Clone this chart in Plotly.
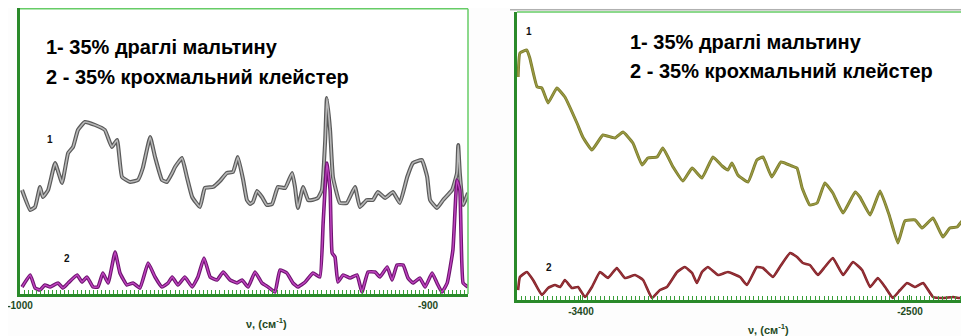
import numpy as np
import plotly.graph_objects as go

# ---------------- DATA ----------------
# Left panel (wavenumber, cm^-1) — curve 1 (35% maltin gel)
left1_wn = [-999.5, -997.5, -996.3, -995.1, -994.4, -993.1, -991.4, -989.7, -988.2, -987.0,
            -985.8, -984.1, -981.6, -979.2, -977.5, -976.2, -975.0, -973.0, -971.1, -969.9,
            -968.1, -966.9, -965.2, -964.0, -962.7, -962.0, -960.3, -959.1, -957.8, -955.9,
            -954.7, -952.7, -951.0, -949.3, -947.8, -946.6, -945.3, -944.4, -943.6, -942.9,
            -941.9, -940.7, -939.5, -938.2, -936.8, -935.0, -933.3, -932.6, -931.9, -930.6,
            -929.4, -928.4, -927.0, -926.0, -925.2, -924.8, -924.0, -923.3, -921.6, -919.9,
            -917.9, -916.7, -915.0, -913.5, -912.3, -910.5, -908.6, -906.9, -905.1, -903.7,
            -901.5, -900.2, -899.5, -897.8, -896.3, -894.1, -892.9, -892.6, -892.2, -891.4,
            -890.2]
left1_val = [104, 84, 87, 107, 97, 104, 131, 111, 141, 147,
             164, 172, 169, 164, 147, 154, 117, 112, 114, 126,
             157, 137, 114, 112, 121, 127, 136, 117, 97, 87,
             106, 107, 113, 121, 122, 137, 114, 94, 90, 92,
             103, 97, 89, 90, 107, 106, 121, 107, 86, 107,
             94, 94, 96, 104, 154, 196, 164, 117, 91, 91,
             107, 87, 94, 94, 102, 96, 102, 91, 117, 131,
             134, 117, 94, 86, 94, 104, 121, 149, 121, 89,
             101]

# Left panel — curve 2 (35% starch paste)
left2_wn = [-999.5, -997.5, -996.3, -995.1, -993.9, -992.6, -990.7, -989.5, -988.2, -986.0,
            -984.8, -983.6, -982.1, -980.9, -979.7, -978.4, -976.7, -975.5, -973.8, -972.3,
            -970.6, -968.6, -966.9, -965.2, -963.7, -962.7, -961.3, -959.6, -957.8, -956.4,
            -954.9, -953.4, -951.7, -950.2, -948.5, -946.8, -945.6, -944.1, -942.4, -940.7,
            -939.2, -937.5, -936.3, -934.6, -933.1, -931.9, -930.1, -928.2, -926.5, -925.7,
            -924.8, -924.0, -923.5, -922.8, -922.1, -920.8, -919.1, -917.4, -916.2, -914.7,
            -913.0, -911.8, -910.0, -908.8, -907.6, -906.1, -904.9, -903.7, -902.0, -900.7,
            -899.0, -897.8, -896.6, -895.3, -893.9, -892.9, -892.2, -891.4, -890.2]
left2_val = [7, 19, 6, 4, 9, 7, 11, 6, 11, 19,
             12, 17, 7, 7, 21, 11, 42, 21, 9, 11,
             6, 31, 17, 7, 11, 17, 9, 17, 7, 17,
             36, 17, 14, 22, 14, 11, 14, 7, 22, 11,
             7, 2, 24, 21, 11, 7, 12, 21, 17, 71,
             131, 104, 41, 37, 12, 19, 16, 19, 2, 22,
             22, 17, 27, 14, 29, 29, 16, 11, 16, 7,
             21, 11, 2, 11, 44, 114, 104, 11, 7]

# Right panel — curve 1
right1_wn = [-3572, -3567, -3548, -3540, -3520, -3507, -3490, -3466, -3444, -3411,
             -3395, -3370, -3340, -3307, -3285, -3258, -3233, -3217, -3192, -3176,
             -3148, -3121, -3096, -3069, -3039, -3014, -2998, -2987, -2971, -2943,
             -2919, -2902, -2878, -2853, -2823, -2809, -2795, -2774, -2754, -2733,
             -2711, -2683, -2650, -2637, -2609, -2582, -2557, -2533, -2514, -2486,
             -2467, -2437, -2410, -2391, -2371, -2355, -2341]
right1_val = [223, 247, 250, 242, 213, 212, 197, 212, 203, 177,
              163, 150, 165, 162, 168, 157, 135, 142, 143, 152,
              133, 119, 132, 122, 143, 134, 130, 137, 125, 118,
              140, 143, 123, 138, 134, 132, 112, 95, 97, 117,
              107, 87, 108, 103, 85, 109, 85, 57, 79, 80,
              72, 82, 63, 72, 73, 80, 73]

# Right panel — curve 2
right2_wn = [-3572, -3567, -3548, -3531, -3507, -3490, -3471, -3457, -3444, -3425,
             -3408, -3389, -3370, -3348, -3326, -3302, -3280, -3252, -3230, -3206,
             -3184, -3165, -3137, -3116, -3096, -3083, -3069, -3053, -3025, -2998,
             -2965, -2946, -2919, -2902, -2875, -2856, -2828, -2809, -2793, -2774,
             -2752, -2733, -2711, -2683, -2656, -2631, -2609, -2588, -2568, -2547,
             -2527, -2508, -2486, -2464, -2437, -2410, -2382, -2363, -2341]
right2_val = [10, 23, 28, 20, 5, 12, 15, 13, 20, 12,
              13, 3, 13, 28, 22, 32, 22, 25, 20, 2,
              10, 13, 28, 33, 27, 17, 28, 33, 25, 28,
              23, 15, 33, 32, 23, 33, 47, 43, 37, 35,
              25, 33, 42, 25, 38, 30, 13, 22, 13, 2,
              10, 17, 13, 17, 3, 2, 3, 2, 7]

left_ticks = [-1000, -900]
left_ticktext = ["-1000", "-900"]
right_ticks = [-3400, -2500]
right_ticktext = ["-3400", "-2500"]

legend_lines = ["1- 35% драглі мальтину", "2 - 35% крохмальний клейстер"]
axis_label = "ν, (см<sup>-1</sup>)"

# ---------------- FIGURE ----------------
W, H = 969, 336
OFF = 8  # page body margin of the browser: figure origin sits at (8, 8) in the window
def fx(p):
    return min(1.0, max(0.0, (p - OFF) / W))
def fy(p):
    return min(1.0, max(0.0, 1 - (p - OFF) / H))

fig = go.Figure()

def add_curve(x, y, xa, ya, outer, inner, wo, wi):
    fig.add_trace(go.Scatter(x=x, y=y, xaxis=xa, yaxis=ya, mode="lines",
                             line=dict(color=outer, width=wo, shape="spline", smoothing=0.35),
                             hoverinfo="skip", showlegend=False))
    if inner:
        fig.add_trace(go.Scatter(x=x, y=y, xaxis=xa, yaxis=ya, mode="lines",
                                 line=dict(color=inner, width=wi, shape="spline", smoothing=0.35),
                                 hoverinfo="skip", showlegend=False))

add_curve(left1_wn, left1_val, "x", "y", "#5a5a5a", "#b8b8b8", 4, 1.6)
add_curve(left2_wn, left2_val, "x", "y", "#6e1470", "#c045c0", 3.6, 1.4)
add_curve(right1_wn, right1_val, "x2", "y2", "#7a7a2a", "#9a9a44", 3, 1.4)
add_curve(right2_wn, right2_val, "x2", "y2", "#7e2228", "#9a3238", 2.6, 1.2)

green_dark = "#2a8a2a"
green_light = "#66cc66"
tick_font = dict(family="Liberation Sans", size=10, color="#1f4a1f", weight="bold")

left_minor = np.arange(-1000, -890, 1.0)
right_minor = np.arange(-3575, -2316, 12.0)

common_x = dict(showgrid=False, zeroline=False, showline=True, linecolor=green_dark, linewidth=3,
                ticks="inside", ticklen=5, tickcolor=green_dark, tickwidth=1,
                tickfont=tick_font, tickmode="array", fixedrange=True, automargin=False,
                ticklabeloverflow="allow")
common_y = dict(showgrid=False, zeroline=False, showline=True, linecolor=green_dark, linewidth=3,
                showticklabels=False, ticks="", fixedrange=True, automargin=False)

fig.update_layout(
    width=W, height=H,
    margin=dict(l=0, r=0, t=0, b=0, pad=0, autoexpand=False),
    paper_bgcolor="#fdfdfd", plot_bgcolor="#ffffff",
    xaxis=dict(domain=[fx(20), fx(468)], range=[-1000, -890.2], anchor="y",
               tickvals=left_ticks, ticktext=left_ticktext,
               minor=dict(tickvals=list(left_minor), ticks="inside", ticklen=4,
                          tickcolor="#3aa03a", tickwidth=1),
               **common_x),
    yaxis=dict(domain=[fy(294), fy(8)], range=[0, 286], anchor="x", **common_y),
    xaxis2=dict(domain=[fx(517), 1.0], range=[-3575, -2316.7], anchor="y2",
                tickvals=right_ticks, ticktext=right_ticktext,
                minor=dict(tickvals=list(right_minor), ticks="inside", ticklen=4,
                           tickcolor="#3aa03a", tickwidth=1),
                **common_x),
    yaxis2=dict(domain=[fy(300), fy(12)], range=[0, 288], anchor="x2", **common_y),
)

# Frame lines
fig.add_shape(type="line", xref="paper", yref="paper", x0=fx(20), x1=fx(468), y0=fy(8.8), y1=fy(8.8),
              line=dict(color=green_light, width=1.5))
fig.add_shape(type="line", xref="paper", yref="paper", x0=fx(468), x1=fx(468), y0=fy(294), y1=fy(8.8),
              line=dict(color=green_light, width=1.5))
fig.add_shape(type="line", xref="paper", yref="paper", x0=fx(510), x1=1.0, y0=fy(9.8), y1=fy(9.8),
              line=dict(color="#b0b0b0", width=1.5))
fig.add_shape(type="line", xref="paper", yref="paper", x0=fx(517), x1=1.0, y0=fy(12), y1=fy(12),
              line=dict(color=green_light, width=1.5))

# Legend text boxes
leg_font = dict(family="Liberation Sans", size=20, color="#000000", weight="bold")
for (x0, ys) in [(44, (47, 77)), (628, (42, 71))]:
    for txt, yy in zip(legend_lines, ys):
        fig.add_annotation(xref="paper", yref="paper", x=fx(x0), y=fy(yy), text=txt,
                           showarrow=False, xanchor="left", yanchor="middle", font=leg_font)

# Curve numbers
num_font = dict(family="Liberation Sans", size=10, color="#111111", weight="bold")
for x0, y0, t in [(50, 140, "1"), (67, 258, "2"), (529, 32, "1"), (549, 267, "2")]:
    fig.add_annotation(xref="paper", yref="paper", x=fx(x0), y=fy(y0), text=t,
                       showarrow=False, xanchor="center", yanchor="middle", font=num_font)

# Axis titles
ax_font = dict(family="Liberation Sans", size=11, color="#1f4a1f", weight="bold")
for x0, y0 in [(266, 323), (768, 329)]:
    fig.add_annotation(xref="paper", yref="paper", x=fx(x0), y=fy(y0), text=axis_label,
                       showarrow=False, xanchor="center", yanchor="middle", font=ax_font)

fig.write_html("out.html")
